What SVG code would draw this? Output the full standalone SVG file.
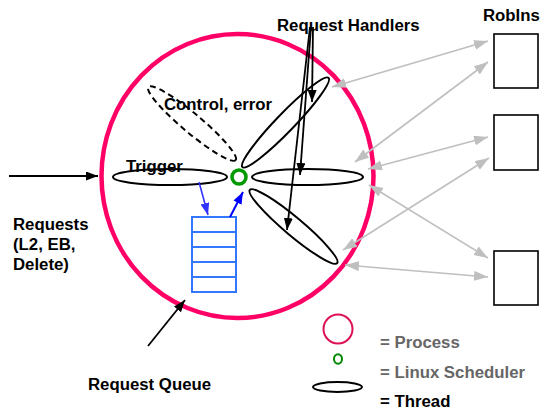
<svg xmlns="http://www.w3.org/2000/svg" width="540" height="414" viewBox="0 0 540 414">
<defs>
<marker id="ab" markerUnits="userSpaceOnUse" markerWidth="13" markerHeight="10" refX="12" refY="4.5" orient="auto"><path d="M0,0 L12,4.5 L0,9 z" fill="#000"/></marker>
<marker id="ag" markerUnits="userSpaceOnUse" markerWidth="15" markerHeight="11" refX="14" refY="5" orient="auto-start-reverse"><path d="M0,0 L14,5 L0,10 z" fill="#bfbfbf"/></marker>
<marker id="abl" markerUnits="userSpaceOnUse" markerWidth="13" markerHeight="10" refX="12" refY="4.5" orient="auto"><path d="M0,0 L12,4.5 L0,9 z" fill="#3333ff"/></marker>
<marker id="abl2" markerUnits="userSpaceOnUse" markerWidth="13" markerHeight="10" refX="12" refY="4.5" orient="auto"><path d="M0,0 L12,4.5 L0,9 z" fill="#0000ff"/></marker>
</defs>
<style>
text{font-family:"Liberation Sans",Arial,sans-serif;font-weight:bold;font-size:16.8px;fill:#000}
.th{fill:none;stroke:#000;stroke-width:2}
.g{stroke:#bfbfbf;stroke-width:1.6;fill:none;marker-start:url(#ag);marker-end:url(#ag)}
.k{stroke:#000;stroke-width:1.8;fill:none;marker-end:url(#ab)}
.box{fill:#fff;stroke:#000;stroke-width:1.6}
.gr{fill:#666}
</style>
<rect width="540" height="414" fill="#fff"/>
<g id="process">
<ellipse cx="237.5" cy="176" rx="136" ry="142" fill="none" stroke="#ff0066" stroke-width="4.5"/>
</g>
<g id="control">
<ellipse cx="192" cy="123.5" rx="57" ry="9.5" transform="rotate(40 192 123.5)" class="th" stroke-dasharray="6,4" stroke-width="1.6"/>
<text x="164" y="110">Control, error</text>
</g>
<g id="trigger">
<text x="126" y="172">Trigger</text>
<ellipse cx="170" cy="177" rx="57" ry="8" class="th"/>
</g>
<g id="handler1"><ellipse cx="285.5" cy="122.5" rx="62" ry="9" transform="rotate(-46 285.5 122.5)" class="th"/></g>
<g id="handler2"><ellipse cx="307.5" cy="177" rx="55.5" ry="8" class="th"/></g>
<g id="handler3"><ellipse cx="293.5" cy="226.5" rx="57" ry="9" transform="rotate(40 293.5 226.5)" class="th"/></g>
<g id="scheduler"><circle cx="239" cy="177" r="7" fill="none" stroke="#009900" stroke-width="3.5"/></g>
<g id="queue" fill="none" stroke="#3377ff" stroke-width="2">
<rect x="192" y="217" width="44" height="75" fill="#fff"/>
<path d="M192,232H236M192,247H236M192,262H236M192,277H236"/>
</g>
<g id="robin1"><rect x="494" y="34" width="44" height="54" class="box"/></g>
<g id="robin2"><rect x="494" y="115" width="44" height="55" class="box"/></g>
<g id="robin3"><rect x="494" y="251" width="44" height="54" class="box"/></g>
<g id="labels">
<text x="277" y="31">Request Handlers</text>
<text x="483" y="21">RobIns</text>
<text x="13" y="230">Requests</text>
<text x="13" y="250">(L2, EB,</text>
<text x="13" y="270">Delete)</text>
<text x="88" y="390">Request Queue</text>
</g>
<g id="connectors">
<line x1="332" y1="87" x2="488" y2="41" class="g"/>
<line x1="355" y1="162" x2="488" y2="62" class="g"/>
<line x1="368" y1="169" x2="488" y2="137" class="g"/>
<line x1="343" y1="250" x2="489" y2="158" class="g"/>
<line x1="369" y1="185" x2="488" y2="258" class="g"/>
<line x1="345" y1="265" x2="488" y2="277" class="g"/>
<line x1="313" y1="27" x2="312" y2="102" class="k"/>
<line x1="311" y1="27" x2="300" y2="175" class="k"/>
<line x1="310" y1="27" x2="287" y2="230" class="k"/>
<line x1="9" y1="176" x2="98" y2="176" class="k"/>
<line x1="148" y1="346" x2="185" y2="300" class="k"/>
<line x1="199" y1="182" x2="208" y2="215" stroke="#3333ff" stroke-width="1.6" marker-end="url(#abl)"/>
<line x1="230" y1="217" x2="243" y2="192" stroke="#0000ff" stroke-width="2" marker-end="url(#abl2)"/>
</g>
<g id="legend">
<circle cx="338" cy="329" r="14.5" fill="none" stroke="#dd1155" stroke-width="2"/>
<ellipse cx="338" cy="359" rx="4" ry="4.8" fill="none" stroke="#008800" stroke-width="2"/>
<ellipse cx="337.5" cy="387" rx="24.5" ry="5" class="th"/>
<text x="380" y="348" class="gr">= Process</text>
<text x="380" y="378" class="gr">= Linux Scheduler</text>
<text x="380" y="407">= Thread</text>
</g>
</svg>
